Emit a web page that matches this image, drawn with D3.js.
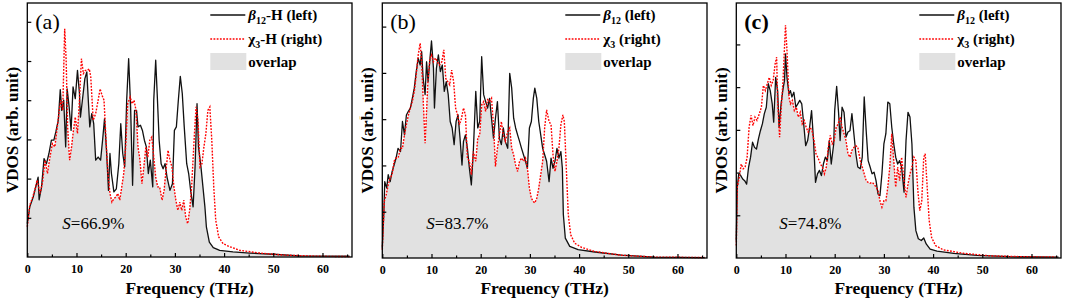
<!DOCTYPE html>
<html lang="en">
<head>
<meta charset="UTF-8">
<title>VDOS overlap</title>
<script src="https://cdn.jsdelivr.net/npm/d3@7/dist/d3.min.js"></script>
<style>
  body { margin: 0; background: #fff; }
  text { font-family: "Liberation Serif", "Times New Roman", serif; fill: #000; }
</style>
</head>
<body>
<script>
// frequency ticks (THz) shared by all three panels
const freqTicks = [0, 10, 20, 30, 40, 50, 60]
const freqMinor = [5, 15, 25, 35, 45, 55, 65]

// panel (a): beta12-H (black, left) and chi3-H (red, right), [THz, VDOS]
const aBeta = [[0,0.85],[0.5,1.28],[1.2,1.53],[1.8,1.83],[2.2,2.04],[2.4,1.46],[2.9,1.79],[3.4,2.51],[3.9,2.38],[4.4,2.64],[4.9,2.98],[5.4,2.98],[5.8,3.19],[6.3,3.49],[6.7,4.27],[7.0,3.74],[7.4,4.0],[7.8,2.81],[8.1,4.29],[8.5,3.83],[8.9,3.23],[9.3,4.34],[9.75,4.04],[10.2,4.76],[10.6,4.17],[10.8,3.57],[11.2,4.0],[11.7,4.55],[12.1,4.72],[12.4,4.0],[12.7,3.32],[13.1,3.66],[13.5,3.40],[13.9,2.47],[14.4,2.55],[14.9,2.47],[15.3,2.98],[15.7,3.53],[16.1,2.72],[16.5,1.70],[16.8,2.64],[17.1,2.13],[17.6,1.66],[18.1,1.74],[18.6,2.38],[19.0,3.40],[19.4,2.64],[19.8,2.30],[20.2,4.0],[20.6,5.06],[21.0,3.83],[21.4,1.83],[21.8,3.74],[22.2,3.74],[22.5,3.32],[23.0,3.36],[23.4,3.23],[23.8,2.98],[24.2,2.81],[24.6,2.13],[25.0,2.47],[25.5,1.79],[25.7,4.0],[26.1,5.02],[26.4,4.17],[26.8,2.98],[27.2,2.38],[27.6,2.25],[28.0,2.38],[28.4,2.04],[29.0,1.70],[29.5,1.87],[29.9,3.23],[30.3,3.32],[30.7,4.0],[31.1,4.61],[31.5,4.17],[31.9,3.32],[32.4,2.38],[32.8,2.13],[33.2,1.70],[33.7,1.28],[34.1,2.30],[34.5,3.91],[34.8,2.81],[35.3,2.30],[35.7,1.79],[36.1,1.28],[36.4,0.77],[37.0,0.38],[37.8,0.24],[39.1,0.17],[41.8,0.13],[45.2,0.10],[50,0.07],[55.4,0.03],[65.5,0.02]]
const aChi = [[0,0.77],[0.5,1.32],[1.1,1.53],[1.6,1.74],[2.0,1.96],[2.6,1.62],[3.1,1.91],[3.6,2.47],[4.1,2.13],[4.6,2.55],[5.1,2.89],[5.6,2.81],[6.1,3.32],[6.5,3.74],[6.8,4.0],[7.2,3.74],[7.6,5.82],[7.9,5.02],[8.2,3.32],[8.6,2.47],[9.0,2.81],[9.3,3.15],[9.75,3.57],[10.2,3.15],[10.6,4.0],[11.0,5.06],[11.4,4.68],[11.8,4.76],[12.2,4.76],[12.6,4.80],[12.9,4.59],[13.4,3.49],[13.9,3.66],[14.4,4.0],[14.8,4.29],[15.2,4.12],[15.6,4.0],[16.0,2.98],[16.4,2.13],[16.8,1.62],[17.2,1.40],[17.6,1.49],[18.0,1.53],[18.4,1.62],[18.8,1.45],[19.2,1.79],[19.6,2.13],[20.0,2.81],[20.4,3.91],[20.9,4.08],[21.3,3.91],[21.7,4.0],[22.1,3.74],[22.5,2.81],[22.9,2.47],[23.3,1.87],[23.7,2.30],[24.1,2.81],[24.5,2.55],[24.9,2.98],[25.3,3.06],[25.7,2.55],[26.1,2.04],[26.5,1.79],[26.9,1.79],[27.4,1.45],[27.8,1.70],[28.2,2.21],[28.6,2.72],[29.0,2.47],[29.4,2.30],[29.8,1.79],[30.2,1.45],[30.6,1.19],[31.0,1.40],[31.4,1.19],[31.8,1.45],[32.2,1.02],[32.6,0.85],[33.0,1.19],[33.4,1.79],[33.9,2.98],[34.3,3.83],[34.7,3.49],[35.1,2.30],[35.5,2.38],[35.9,2.81],[36.3,3.15],[36.7,3.74],[37.1,3.83],[37.5,2.98],[37.9,1.79],[38.3,0.94],[38.9,0.51],[39.8,0.34],[41.2,0.26],[43.2,0.17],[47.3,0.10],[52,0.05],[58.8,0.02],[65.5,0.01]]

// panel (b): beta12 and chi3
const bBeta = [[0,0.22],[0.3,0.94],[0.5,1.65],[0.9,1.51],[1.2,1.80],[1.6,1.65],[2.0,1.87],[2.4,2.01],[2.8,2.16],[3.2,2.37],[3.7,2.30],[4.1,2.95],[4.5,2.66],[4.9,3.09],[5.3,3.17],[5.7,3.24],[6.1,3.45],[6.5,3.67],[6.9,4.03],[7.3,4.32],[7.7,4.17],[8.0,4.46],[8.3,3.88],[8.7,3.53],[9.0,4.24],[9.3,3.81],[9.7,4.32],[10.0,4.69],[10.4,4.10],[10.6,3.24],[11.0,4.10],[11.4,4.39],[11.8,4.03],[12.2,4.17],[12.6,3.60],[13.0,3.81],[13.4,3.53],[13.8,2.95],[14.2,2.81],[14.6,2.45],[15.0,2.95],[15.4,3.09],[15.8,2.59],[16.2,2.01],[16.5,2.52],[16.9,2.66],[17.3,2.37],[17.7,1.94],[18.1,1.58],[18.5,2.30],[19.0,3.60],[19.4,2.81],[19.8,2.95],[20.2,4.35],[20.6,3.53],[21.0,3.38],[21.4,3.24],[21.8,3.45],[22.2,3.02],[22.6,2.59],[23.0,3.02],[23.4,3.38],[23.8,2.59],[24.2,2.45],[24.6,2.81],[25.0,2.52],[25.5,2.37],[25.9,3.99],[26.3,3.67],[26.7,3.02],[27.1,2.81],[27.5,2.66],[27.9,2.52],[28.3,2.37],[28.7,2.23],[29.1,2.09],[29.5,1.94],[29.9,2.81],[30.3,2.95],[30.7,3.45],[31.0,3.67],[31.4,3.45],[31.8,2.95],[32.2,2.66],[32.6,2.37],[33.0,2.23],[33.4,2.09],[33.9,1.65],[34.3,2.16],[34.7,1.94],[35.1,2.09],[35.5,2.37],[35.9,2.16],[36.3,2.30],[36.6,1.94],[36.8,0.94],[37.2,0.43],[38.1,0.25],[39.8,0.18],[43.2,0.13],[48.6,0.06],[55.4,0.02],[65.5,0.01]]
const bChi = [[0,0.18],[0.4,1.22],[0.8,1.37],[1.2,1.58],[1.6,1.73],[2.0,1.80],[2.4,2.09],[2.8,2.16],[3.2,2.16],[3.7,2.37],[4.1,2.37],[4.5,2.66],[4.9,2.88],[5.3,3.09],[5.7,3.24],[6.1,3.38],[6.5,3.60],[6.9,3.96],[7.3,4.39],[7.7,4.64],[8.0,4.24],[8.3,3.45],[8.7,2.48],[9.0,3.17],[9.3,3.88],[9.7,4.32],[10.0,4.39],[10.4,4.24],[10.8,4.32],[11.2,4.24],[11.6,4.17],[12.1,4.24],[12.5,4.50],[12.9,3.88],[13.3,3.81],[13.7,3.74],[14.1,4.06],[14.5,3.81],[14.9,3.24],[15.3,3.09],[15.7,2.88],[16.1,3.02],[16.5,3.24],[16.9,3.09],[17.3,2.16],[17.7,2.09],[18.1,1.80],[18.5,2.30],[19.0,2.09],[19.4,2.59],[19.8,2.66],[20.2,3.31],[20.6,3.38],[21.0,3.17],[21.4,3.42],[21.8,3.38],[22.2,3.45],[22.6,2.88],[23.0,1.98],[23.4,2.37],[23.8,2.66],[24.2,2.95],[24.6,2.66],[25.0,2.52],[25.5,2.73],[25.9,2.81],[26.3,2.37],[26.7,2.23],[27.1,2.01],[27.5,1.87],[27.9,2.09],[28.3,2.16],[28.7,2.09],[29.1,2.16],[29.5,1.94],[29.9,1.51],[30.3,1.29],[30.7,1.22],[31.0,1.19],[31.4,1.29],[31.8,1.51],[32.2,1.80],[32.6,2.09],[33.0,2.81],[33.4,3.20],[33.9,2.95],[34.3,2.88],[34.7,2.23],[35.1,1.87],[35.5,2.09],[35.9,2.37],[36.3,2.88],[36.7,3.09],[37.0,2.95],[37.4,1.94],[37.8,0.94],[38.3,0.50],[39.1,0.32],[40.5,0.23],[43.2,0.14],[48.6,0.06],[55.4,0.02],[65.5,0.01]]

// panel (c): beta12 and chi3
const cBeta = [[0,0.41],[0.2,1.66],[0.5,1.97],[0.9,1.93],[1.3,1.85],[1.7,1.81],[2.1,1.73],[2.5,2.13],[2.9,2.36],[3.3,2.71],[3.7,2.59],[4.1,2.55],[4.5,2.79],[4.9,2.98],[5.3,3.14],[5.7,3.38],[6.1,3.53],[6.5,4.08],[6.9,3.92],[7.3,3.61],[7.6,3.18],[8.0,4.23],[8.4,3.92],[8.7,3.06],[9.1,3.61],[9.5,3.96],[9.8,4.16],[10.0,4.78],[10.3,4.23],[10.7,3.84],[11.0,3.92],[11.3,3.77],[11.7,3.88],[12.1,3.53],[12.5,3.61],[12.9,3.69],[13.3,3.61],[13.7,3.14],[14.1,2.63],[14.5,2.75],[14.9,3.06],[15.3,3.45],[15.7,2.75],[16.1,1.77],[16.5,1.97],[16.9,2.05],[17.3,1.93],[17.7,2.20],[18.1,2.36],[18.5,2.28],[18.9,2.75],[19.3,2.20],[19.8,2.67],[20.0,3.45],[20.4,4.02],[20.8,3.38],[21.1,2.75],[21.5,3.53],[21.9,3.41],[22.3,2.83],[22.7,2.95],[23.1,2.98],[23.5,3.38],[23.9,2.91],[24.3,2.44],[24.7,2.13],[25.2,2.09],[25.6,2.36],[26.0,3.77],[26.4,2.98],[26.8,2.28],[27.2,2.13],[27.6,1.97],[28.0,2.01],[28.4,1.81],[28.8,1.50],[29.2,1.46],[29.6,1.97],[30.0,2.67],[30.4,2.91],[30.8,3.65],[31.2,3.61],[31.6,3.06],[32.0,2.67],[32.4,2.36],[32.8,2.20],[33.2,2.28],[33.6,2.13],[34.1,1.54],[34.5,2.75],[34.9,3.41],[35.3,3.30],[35.7,2.67],[36.1,1.19],[36.5,0.64],[37.0,0.45],[37.6,0.41],[38.1,0.47],[38.6,0.33],[39.4,0.21],[40.8,0.16],[44.2,0.11],[48.9,0.06],[55.6,0.03],[65.5,0.02]]
const cChi = [[0,0.29],[0.2,1.66],[0.6,1.89],[1.0,2.20],[1.4,2.09],[1.8,2.13],[2.2,2.36],[2.6,3.06],[3.0,3.34],[3.4,3.10],[3.8,3.30],[4.2,3.22],[4.7,3.38],[5.1,3.53],[5.5,4.04],[5.9,3.92],[6.3,4.08],[6.7,4.23],[7.1,4.04],[7.5,4.16],[7.9,4.55],[8.2,4.70],[8.4,3.69],[8.8,2.83],[9.1,3.45],[9.5,4.16],[9.8,4.94],[10.0,5.45],[10.3,4.86],[10.7,3.77],[11.0,3.61],[11.4,3.69],[11.8,3.45],[12.2,3.53],[12.6,3.30],[13.0,3.41],[13.4,3.14],[13.8,3.22],[14.2,3.06],[14.6,2.95],[15.0,3.06],[15.4,2.98],[15.8,2.75],[16.2,2.44],[16.7,2.32],[17.1,2.20],[17.5,2.13],[17.9,1.97],[18.3,2.13],[18.7,2.59],[19.1,2.87],[19.5,2.67],[19.9,2.75],[20.3,3.06],[20.7,3.14],[21.1,3.30],[21.5,3.06],[21.9,2.91],[22.3,2.75],[22.7,2.44],[23.1,2.36],[23.5,2.52],[23.9,2.59],[24.3,2.63],[24.7,2.59],[25.2,2.28],[25.6,2.13],[26.0,1.97],[26.4,1.81],[26.8,1.77],[27.2,1.75],[27.6,1.77],[28.0,1.73],[28.4,1.66],[28.8,1.58],[29.2,1.34],[29.6,1.19],[30.0,1.34],[30.4,1.34],[30.8,1.66],[31.2,2.13],[31.6,2.91],[32.0,2.28],[32.4,1.66],[32.8,2.13],[33.2,1.81],[33.6,2.36],[34.1,1.81],[34.5,1.42],[34.9,1.73],[35.3,1.97],[35.7,2.13],[36.1,2.36],[36.5,2.28],[36.9,1.58],[37.3,1.11],[37.7,1.34],[38.1,2.36],[38.4,2.44],[38.8,1.66],[39.2,0.88],[39.7,0.48],[40.5,0.29],[42.1,0.19],[46.2,0.11],[51.6,0.05],[58.3,0.03],[65.5,0.02]]

const panelTags = ['(a)', '(b)', '(c)']
const overlapPct = ['66.9', '83.7', '74.8']
const seriesSuffix = ['-H', '', '']

const W = 1065, H = 300, topY = 3
const panels = [
  {beta: aBeta, chi: aChi, left: 27.3, right: 352, bottom: 257, yMax: 6.48, yTicks: [1, 2, 3, 4, 5, 6], clip: [0, 360], sDx: 35, boldTag: false, rightTitle: true},
  {beta: bBeta, chi: bChi, left: 382.3, right: 707, bottom: 258, yMax: 5.51, yTicks: [1, 2, 3, 4, 5], clip: [360, 712], sDx: 44, boldTag: false, rightTitle: false},
  {beta: cBeta, chi: cChi, left: 736.3, right: 1061, bottom: 258, yMax: 5.97, yTicks: [1, 2, 3, 4, 5], clip: [712, 1065], sDx: 43, boldTag: true, rightTitle: false}
]

const svg = d3.select('body').append('svg')
  .attr('width', W)
  .attr('height', H)
const defs = svg.append('defs')

panels.forEach((p, i) => {
  defs.append('clipPath').attr('id', 'panel' + i)
    .append('rect')
    .attr('x', p.clip[0]).attr('y', 0)
    .attr('width', p.clip[1] - p.clip[0]).attr('height', H)
  const g = svg.append('g').attr('clip-path', `url(#panel${i})`)

  const x = d3.scaleLinear().domain([0, 66]).range([p.left, p.right])
  const y = d3.scaleLinear().domain([0, p.yMax]).range([p.bottom, topY])
  const line = d3.line().x(d => x(d[0])).y(d => y(d[1]))
  const area = d3.area().x(d => x(d[0])).y0(y(0)).y1(d => y(d[1]))

  // overlap = area under beta intersected with area under chi
  defs.append('clipPath').attr('id', 'chiArea' + i)
    .append('path').attr('d', area(p.chi))
  g.append('path')
    .attr('d', area(p.beta))
    .attr('fill', '#e1e1e1')
    .attr('clip-path', `url(#chiArea${i})`)

  g.append('path')
    .attr('d', line(p.beta))
    .attr('fill', 'none')
    .attr('stroke', '#111')
    .attr('stroke-width', 1.3)
    .attr('stroke-linejoin', 'round')
  g.append('path')
    .attr('d', line(p.chi))
    .attr('fill', 'none')
    .attr('stroke', '#ff0000')
    .attr('stroke-width', 1.4)
    .attr('stroke-dasharray', '1.8,1.4')

  // axes: ticks point inward, no y labels
  const minor = g.append('g').attr('transform', `translate(0,${p.bottom})`)
    .call(d3.axisBottom(x).tickValues(freqMinor).tickSize(-2.5).tickFormat(''))
  const major = g.append('g').attr('transform', `translate(0,${p.bottom})`)
    .call(d3.axisBottom(x).tickValues(freqTicks).tickSize(-4).tickPadding(7.5))
  major.selectAll('text')
    .style('font-family', '"Liberation Serif", serif')
    .style('font-weight', 'bold')
    .style('font-size', '12px')
  const yAxis = g.append('g').attr('transform', `translate(${p.left},0)`)
    .call(d3.axisLeft(y).tickValues(p.yTicks).tickSize(-4).tickFormat(''))
  ;[minor, major, yAxis].forEach(a => {
    a.select('.domain').remove()
    a.selectAll('line').attr('stroke', '#000').attr('stroke-width', 1.2)
  })

  g.append('rect')
    .attr('x', p.left).attr('y', topY)
    .attr('width', p.right - p.left).attr('height', p.bottom - topY)
    .attr('fill', 'none')
    .attr('stroke', '#000')
    .attr('stroke-width', 1.3)

  // axis titles
  const midY = (topY + p.bottom) / 2
  g.append('text')
    .attr('transform', `translate(${p.left - 15},${midY}) rotate(-90)`)
    .attr('text-anchor', 'middle')
    .attr('dominant-baseline', 'central')
    .style('font-weight', 'bold').style('font-size', '17px')
    .text('VDOS (arb. unit)')
  // right-axis title, mostly hidden under the next panel
  if (p.rightTitle) {
    g.append('text')
      .attr('transform', `translate(${p.right + 14},${midY}) rotate(-90)`)
      .attr('text-anchor', 'middle')
      .attr('dominant-baseline', 'central')
      .style('font-weight', 'bold').style('font-size', '17px')
      .text('VDOS (arb. unit)')
  }
  g.append('text')
    .attr('x', (p.left + p.right) / 2).attr('y', 294)
    .attr('text-anchor', 'middle')
    .style('font-weight', 'bold').style('font-size', '17.5px')
    .text('Frequency (THz)')

  g.append('text')
    .attr('x', p.left + 8).attr('y', 29)
    .style('font-size', '22px')
    .style('font-weight', p.boldTag ? 'bold' : 'normal')
    .text(panelTags[i])

  // legend
  const lx = p.left + 183, tx = p.left + 221
  g.append('line').attr('x1', lx).attr('x2', lx + 35).attr('y1', 15).attr('y2', 15)
    .attr('stroke', '#111').attr('stroke-width', 1.3)
  g.append('line').attr('x1', lx).attr('x2', lx + 35).attr('y1', 39).attr('y2', 39)
    .attr('stroke', '#ff0000').attr('stroke-width', 1.4).attr('stroke-dasharray', '1.8,1.4')
  g.append('rect').attr('x', lx).attr('y', 53).attr('width', 36).attr('height', 17)
    .attr('fill', '#e1e1e1')

  const t1 = g.append('text').attr('x', tx).attr('y', 20)
    .style('font-weight', 'bold').style('font-size', '15px')
  t1.append('tspan').style('font-style', 'italic').text('β')
  t1.append('tspan').attr('dy', 4).style('font-size', '10px').text('12')
  t1.append('tspan').attr('dy', -4).text(seriesSuffix[i] + ' (left)')
  const t2 = g.append('text').attr('x', tx).attr('y', 44)
    .style('font-weight', 'bold').style('font-size', '15px')
  t2.append('tspan').text('χ')
  t2.append('tspan').attr('dy', 4).style('font-size', '10px').text('3')
  t2.append('tspan').attr('dy', -4).text(seriesSuffix[i] + ' (right)')
  g.append('text').attr('x', tx).attr('y', 67)
    .style('font-weight', 'bold').style('font-size', '15px')
    .text('overlap')

  const s = g.append('text').attr('x', p.left + p.sDx).attr('y', 229)
    .style('font-size', '17px')
  s.append('tspan').style('font-style', 'italic').text('S')
  s.append('tspan').text('=' + overlapPct[i] + '%')
})
</script>
</body>
</html>
